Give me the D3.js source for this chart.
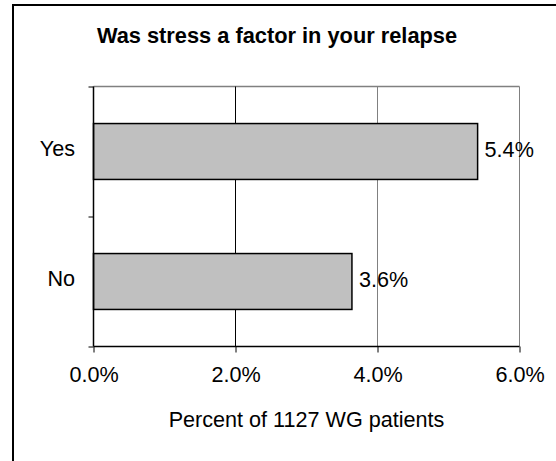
<!DOCTYPE html>
<html><head><meta charset="utf-8">
<script src="https://cdn.jsdelivr.net/npm/d3@7"></script>
<style>body{margin:0;background:#fff}svg{display:block}text{font-family:Arial,"Liberation Sans",sans-serif;fill:#000}</style>
</head><body>
<script>
const categories = ["Yes", "No"];
const values = [5.41, 3.64];
const xTicks = [0, 2, 4, 6];
const title = "Was stress a factor in your relapse";
const xTitle = "Percent of 1127 WG patients";

const W = 556, H = 461;
const FS = 21.6;
const svg = d3.select("body").append("svg").attr("width", W).attr("height", H);
svg.append("rect").attr("x", 13).attr("y", 5).attr("width", 700).attr("height", 700)
  .attr("fill", "none").attr("stroke", "#000").attr("stroke-width", 2);

const L = 93.5, R = 519.5, T = 86.5, B = 346.5;
const x = d3.scaleLinear().domain([0, 6]).range([L, R]);
const y = d3.scaleBand().domain(categories).range([T, B]).paddingInner(0.57).paddingOuter(0.285);

// plot frame (top) and gridlines
svg.append("line").attr("x1", L).attr("x2", R).attr("y1", T).attr("y2", T).attr("stroke", "#808080").attr("stroke-width", 1.5);
svg.selectAll(".grid").data(xTicks.filter(d => d > 0)).enter().append("line")
  .attr("x1", d => x(d)).attr("x2", d => x(d)).attr("y1", T).attr("y2", B)
  .attr("stroke", d => d === 2 ? "#000" : "#808080").attr("stroke-width", 1);

// bars
svg.selectAll(".bar").data(categories).enter().append("rect")
  .attr("x", x(0)).attr("y", d => y(d)).attr("width", (d, i) => x(values[i]) - x(0)).attr("height", y.bandwidth())
  .attr("fill", "#c0c0c0").attr("stroke", "#000").attr("stroke-width", 1.5);

// value labels
svg.selectAll(".val").data(categories).enter().append("text")
  .attr("x", (d, i) => x(values[i]) + 7).attr("y", d => y(d) + y.bandwidth() / 2 - 2).attr("dy", "0.35em")
  .attr("font-size", FS).text((d, i) => values[i].toFixed(1) + "%");

// axes
const xAxis = svg.append("g").attr("transform", `translate(0,${B})`)
  .call(d3.axisBottom(x).tickValues(xTicks).tickSize(6).tickPadding(10).tickFormat(d => d.toFixed(1) + "%"));
xAxis.select(".domain").attr("stroke", "#000").attr("stroke-width", 1.5).attr("d", `M${L},0H${R}`);
xAxis.selectAll("text").attr("font-size", FS).attr("font-family", "Arial, 'Liberation Sans', sans-serif").attr("dy", "0.9em");

const yScaleLin = d3.scaleLinear().domain([0, 2]).range([T, B]);
const yAxis = svg.append("g").attr("transform", `translate(${L},0)`)
  .call(d3.axisLeft(yScaleLin).tickValues([0, 1, 2]).tickSize(5).tickFormat(""));
yAxis.select(".domain").attr("stroke", "#000").attr("stroke-width", 1.5).attr("d", `M0,${T}V${B}`);

svg.selectAll(".cat").data(categories).enter().append("text")
  .attr("x", 75).attr("y", d => y(d) + y.bandwidth() / 2 - 3).attr("dy", "0.35em")
  .attr("text-anchor", "end").attr("font-size", FS).text(d => d);

svg.append("text").attr("x", 277).attr("y", 43).attr("text-anchor", "middle")
  .attr("font-size", 21.8).attr("font-weight", "bold").text(title);
svg.append("text").attr("x", (L + R) / 2).attr("y", 427).attr("text-anchor", "middle")
  .attr("font-size", FS).text(xTitle);
</script>
</body></html>
